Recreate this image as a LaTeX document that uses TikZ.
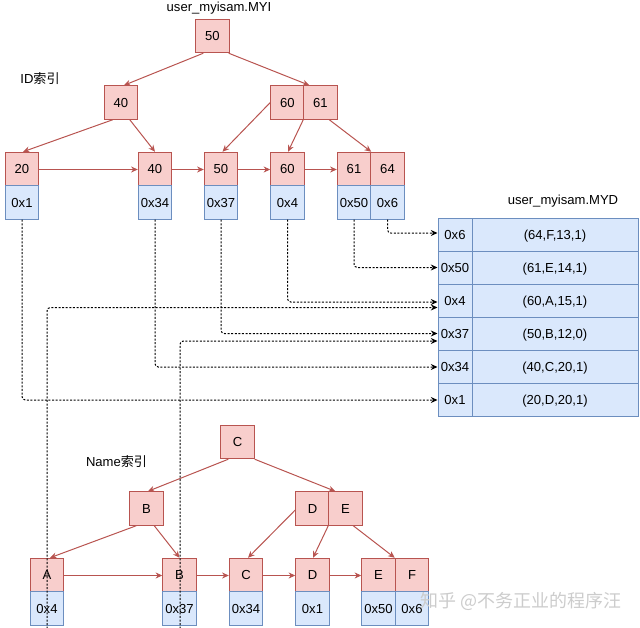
\documentclass[tikz,border=0pt]{standalone}
\usepackage{fontspec}
\setmainfont{Liberation Sans}
\newfontfamily\cjk{Noto Sans CJK SC}
\usetikzlibrary{arrows.meta,calc}
\definecolor{pinkf}{HTML}{F8CECC}
\definecolor{pinkd}{HTML}{B85450}
\definecolor{bluef}{HTML}{DAE8FC}
\definecolor{blued}{HTML}{6C8EBF}
\begin{document}
\begin{tikzpicture}[x=0.75pt,y=-0.75pt,
  every node/.style={font=\fontsize{9.8pt}{11pt}\selectfont, inner sep=0pt},
  cellbase/.style={line width=0.75pt, minimum width=25.1pt, minimum height=25.1pt, text height=7pt, text depth=0pt},
  pk/.style={cellbase, draw=pinkd, fill=pinkf},
  bl/.style={cellbase, draw=blued, fill=bluef},
  mk/.style={bl, minimum width=25.5pt, minimum height=24.75pt},
  mv/.style={bl, minimum width=124.5pt, minimum height=24.75pt},
  tr/.style={draw=pinkd, line width=0.75pt, -{Stealth[length=5pt,width=4.5pt]}},
  dl/.style={draw=black, line width=0.75pt, dash pattern=on 1.5pt off 1.2pt, rounded corners=2.5pt, -{Stealth[length=5pt,width=4.5pt]}}
]
\useasboundingbox (0,0) rectangle (640,628);

% ---------- ID index ----------
\node (myi) at (219,8) {user\_myisam.MYI};
\node (idl) at (40,79) {ID{\cjk 索引}};
\node[pk] (r50) at (212.5,36) {50};
\node[pk] (i40) at (121,102.5) {40};
\node[pk] (i60) at (287.5,102.5) {60};
\node[pk] (i61) at (320.5,102.5) {61};

\node[pk] (k20) at (22,169) {20};    \node[bl] (a20) at (22,202.5) {0x1};
\node[pk] (k40) at (155,169) {40};   \node[bl] (a40) at (155,202.5) {0x34};
\node[pk] (k50) at (221,169) {50};   \node[bl] (a50) at (221,202.5) {0x37};
\node[pk] (k60) at (287.5,169) {60}; \node[bl] (a60) at (287.5,202.5) {0x4};
\node[pk] (k61) at (354,169) {61};   \node[bl] (a61) at (354,202.5) {0x50};
\node[pk] (k64) at (387.5,169) {64}; \node[bl] (a64) at (387.5,202.5) {0x6};

\draw[tr] ($(r50.south west)+(8,0)$) -- ($(i40.north)+(3,0)$);
\draw[tr] ($(r50.south east)+(-1,0)$) -- ($(i61.north west)+(6,0)$);
\draw[tr] ($(i40.south west)+(9,0)$) -- ($(k20.north)+(1,0)$);
\draw[tr] ($(i40.south west)+(26,0)$) -- (k40.north);
\draw[tr] (i60.west) -- ($(k50.north)+(1.5,0)$);
\draw[tr] (i61.south west) -- ($(k60.north)+(0.5,0)$);
\draw[tr] ($(i61.south west)+(26,0)$) -- (k61.north east);
\draw[tr] ($(k20.east)+(0,0.5)$) -- ($(k40.west)+(0,0.5)$);
\draw[tr] ($(k40.east)+(0,0.5)$) -- ($(k50.west)+(0,0.5)$);
\draw[tr] ($(k50.east)+(0,0.5)$) -- ($(k60.west)+(0,0.5)$);
\draw[tr] ($(k60.east)+(0,0.5)$) -- ($(k61.west)+(0,0.5)$);

% ---------- MYD table ----------
\node (myd) at (563,201) {user\_myisam.MYD};
\node[mk] (m1) at (455,234.5) {0x6};  \node[mv] (v1) at (555,234.5) {(64,F,13,1)};
\node[mk] (m2) at (455,267.5) {0x50}; \node[mv] (v2) at (555,267.5) {(61,E,14,1)};
\node[mk] (m3) at (455,300.5) {0x4};  \node[mv] (v3) at (555,300.5) {(60,A,15,1)};
\node[mk] (m4) at (455,333.5) {0x37}; \node[mv] (v4) at (555,333.5) {(50,B,12,0)};
\node[mk] (m5) at (455,366.5) {0x34}; \node[mv] (v5) at (555,366.5) {(40,C,20,1)};
\node[mk] (m6) at (455,399.5) {0x1};  \node[mv] (v6) at (555,399.5) {(20,D,20,1)};

% ---------- Name index ----------
\node (nl) at (116.5,462) {Name{\cjk 索引}};
\node[pk] (nC) at (237.5,442) {C};
\node[pk] (nB) at (146.5,508.5) {B};
\node[pk] (nD) at (312.5,508.5) {D};
\node[pk] (nE) at (345.5,508.5) {E};

\node[pk] (kA) at (47,575) {A};      \node[bl] (bA) at (47,608.5) {0x4};
\node[pk] (kB) at (179.5,575) {B};   \node[bl] (bB) at (179.5,608.5) {0x37};
\node[pk] (kC) at (246,575) {C};     \node[bl] (bC) at (246,608.5) {0x34};
\node[pk] (kD) at (312.5,575) {D};   \node[bl] (bD) at (312.5,608.5) {0x1};
\node[pk] (kE) at (378.5,575) {E};   \node[bl] (bE) at (378.5,608.5) {0x50};
\node[pk] (kF) at (412,575) {F};     \node[bl] (bF) at (412,608.5) {0x6};

\draw[tr] ($(nC.south west)+(8,0)$) -- ($(nB.north)+(1.5,0)$);
\draw[tr] (nC.south east) -- ($(nE.north west)+(7,0)$);
\draw[tr] ($(nB.south west)+(7,0)$) -- ($(kA.north)+(3,0)$);
\draw[tr] ($(nB.south west)+(25,0)$) -- (kB.north);
\draw[tr] ($(nD.west)+(0,1.5)$) -- ($(kC.north)+(2,0)$);
\draw[tr] (nE.south west) -- ($(kD.north)+(0.5,0)$);
\draw[tr] ($(nE.south west)+(25,0)$) -- ($(kE.north east)+(-1,0)$);
\draw[tr] ($(kA.east)+(0,0.5)$) -- ($(kB.west)+(0,0.5)$);
\draw[tr] ($(kB.east)+(0,0.5)$) -- ($(kC.west)+(0,0.5)$);
\draw[tr] ($(kC.east)+(0,0.5)$) -- ($(kD.west)+(0,0.5)$);
\draw[tr] ($(kD.east)+(0,0.5)$) -- ($(kE.west)+(0,0.5)$);

% ---------- pointers ----------
\draw[dl] (a64.south) |- ($(m1.west)+(0,-1.5)$);
\draw[dl] (a61.south) |- (m2.west);
\draw[dl] (a60.south) |- ($(m3.west)+(0,1.5)$);
\draw[dl] (a50.south) |- (m4.west);
\draw[dl] (a40.south) |- ($(m5.west)+(0,0.5)$);
\draw[dl] (a20.south) |- ($(m6.west)+(0,0.5)$);
\draw[dl] ($(bA.south)+(0,3)$) |- ($(m3.west)+(0,7)$);
\draw[dl] ($(bB.south)+(0.5,3)$) |- ($(m4.west)+(0,7.5)$);

\node[text=gray!40, font=\cjk\fontsize{13.5pt}{14pt}\selectfont] (wm) at (521,601) {知乎 @不务正业的程序汪};
\end{tikzpicture}
\end{document}
